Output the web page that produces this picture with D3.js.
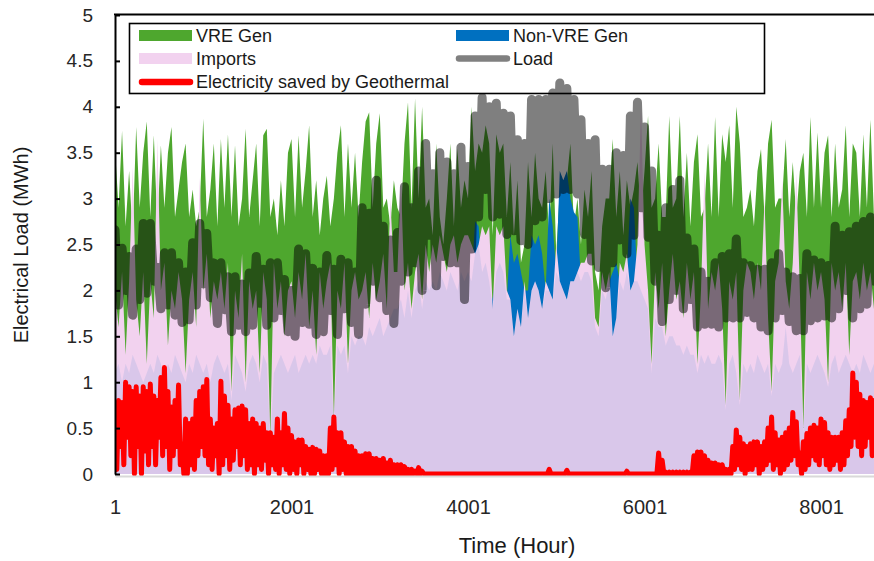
<!DOCTYPE html>
<html><head><meta charset="utf-8">
<script src="https://cdn.jsdelivr.net/npm/d3@7"></script>
<style>
html,body{margin:0;padding:0;background:#fff;overflow:hidden}
svg{display:block;font-family:"Liberation Sans",Arial,sans-serif}
</style></head><body>
<svg id="chart" width="874" height="561"></svg>
<script>
// Hours per sample for generation / imports / geothermal
const STEP = 40;
// Hours per block for Load (block maximum and minimum)
const BLOCK = 80;

const vreGen = [
3.55,2.9,3.74,2.7,3.3,2.6,3.78,2.9,3.5,3.84,
2.8,3.69,2.7,3.58,2.9,3.5,3.78,2.8,3.1,3.4,
3.6,2.8,3.1,2.7,2.9,3.87,2.8,3.1,3.6,2.7,
3.65,2.9,3.7,2.8,3.58,2.7,3.0,3.76,2.8,3.2,
3.6,2.7,3.69,3.76,2.8,3.0,2.6,3.2,2.7,3.5,
3.65,2.8,3.69,2.9,3.3,3.8,2.8,3.2,2.6,3.0,
3.25,2.7,3.0,3.5,3.8,2.8,3.6,2.9,3.5,2.8,
3.4,3.84,3.94,2.9,3.6,3.93,2.9,3.0,2.7,3.2,
2.9,2.8,3.6,4.05,2.9,4.09,3.0,4.0,2.9,3.0,
2.6,3.6,2.8,2.5,3.0,3.6,2.7,3.55,2.9,3.2,
3.0,4.0,3.3,3.6,3.5,3.8,3.6,2.6,3.7,3.5,
3.6,2.8,3.4,2.6,3.2,2.3,2.5,3.4,2.8,3.5,
3.0,2.9,3.3,2.6,3.6,2.4,3.1,2.9,3.2,3.6,
2.7,3.0,2.5,3.1,2.8,3.3,2.2,2.0,2.7,3.0,
3.0,3.65,2.8,3.3,2.6,3.2,2.9,3.1,3.4,2.8,
3.3,3.9,2.9,3.0,3.6,2.8,2.8,3.9,2.9,3.0,
3.9,2.8,3.5,2.7,3.4,3.7,2.8,2.9,3.6,2.8,
3.89,2.8,3.7,3.4,3.8,2.9,4.0,3.6,2.8,2.9,
3.1,2.7,3.3,3.54,2.8,3.6,3.86,2.9,3.0,3.0,
3.65,2.8,3.4,2.8,3.3,3.5,2.8,3.89,2.9,3.72,
2.9,3.5,3.69,2.8,3.6,2.9,3.1,3.8,2.8,3.6,
3.5,2.8,3.7,2.9,3.86,2.8,3.3,3.6,2.9];

const imports = [
2.0,1.6,2.2,1.3,2.1,3.35,1.9,1.5,2.2,1.2,
2.1,1.7,3.65,2.0,2.3,1.4,2.0,1.8,2.2,1.9,
1.1,1.9,2.2,1.6,3.23,2.0,2.4,1.7,2.1,1.9,
2.2,1.8,2.3,0.9,2.0,1.7,2.4,1.0,2.1,1.8,
2.0,1.1,2.2,1.9,0.4,2.3,1.8,2.1,1.5,2.0,
2.1,1.7,2.2,1.9,2.4,1.6,2.0,1.3,2.2,1.8,
2.1,2.3,0.6,2.0,1.8,2.3,1.2,2.0,2.2,1.9,
2.0,2.2,1.7,2.3,1.9,2.1,2.4,1.8,3.0,2.2,
2.2,3.2,2.0,2.3,1.8,2.2,2.4,1.9,2.5,2.2,
2.5,2.3,2.6,2.4,2.2,2.5,2.6,2.3,2.5,2.6,
2.6,2.5,2.4,2.5,2.7,2.6,2.7,1.8,2.7,2.6,
2.7,2.0,1.9,1.5,1.8,1.6,2.1,1.7,2.0,2.1,
2.0,1.8,2.1,2.0,1.9,2.5,2.1,2.0,1.9,2.1,
2.1,2.2,2.3,2.3,2.4,2.4,1.7,1.6,2.2,2.0,
2.2,1.5,1.7,2.3,2.2,2.4,2.0,2.1,2.5,4.0,
2.5,2.0,1.2,2.2,1.8,2.3,1.5,2.0,2.4,1.9,
2.1,1.7,2.3,1.9,2.2,1.2,2.0,3.3,1.8,2.2,
2.0,2.3,1.8,0.75,2.1,1.9,2.2,0.8,2.0,2.3,
2.2,1.9,2.3,2.0,3.0,1.7,0.9,2.1,2.3,3.2,
2.1,1.8,2.3,3.28,2.0,0.5,2.2,1.9,2.3,2.0,
2.2,1.9,1.0,2.3,2.0,2.2,1.8,2.3,1.3,2.1,
2.2,1.9,2.3,2.0,2.2,1.8,2.1,2.0,2.2];

const nonVreGen = [
1.1,1.2,1.0,1.2,1.1,1.3,1.2,1.1,1.0,1.1,
1.2,1.1,1.3,1.2,1.0,1.2,1.1,1.3,1.2,1.1,
1.0,1.2,1.1,1.3,1.2,1.1,1.2,1.0,1.2,1.3,
1.2,1.1,1.2,0.8,1.3,1.2,1.1,0.9,1.2,1.3,
1.2,1.0,1.3,1.2,0.35,1.1,1.2,1.3,1.2,1.1,
1.2,1.3,1.1,1.2,1.3,1.2,1.3,1.2,1.4,1.3,
1.3,1.4,0.5,1.4,1.3,1.4,1.1,1.5,1.4,1.5,
1.5,1.4,1.6,1.5,1.6,1.7,1.5,1.6,1.7,1.8,
1.8,1.9,1.7,2.0,1.7,2.0,2.1,1.8,2.1,2.0,
2.1,2.0,2.2,2.1,2.0,2.2,2.1,2.0,2.2,2.1,
2.2,2.1,2.75,2.7,2.2,2.3,2.1,1.9,2.2,2.3,
2.2,1.9,2.6,2.3,2.4,2.2,2.0,2.0,2.6,2.5,
2.6,2.4,2.0,3.0,2.7,2.2,3.3,3.2,3.3,3.0,
2.85,2.8,2.1,2.2,2.2,2.1,1.6,1.5,2.0,1.9,
2.1,2.2,2.3,2.1,2.0,2.2,3.0,2.9,2.1,2.0,
1.9,1.8,1.1,1.7,1.6,1.6,1.4,1.5,1.5,1.4,
1.4,1.3,1.4,1.3,1.3,1.1,1.3,1.2,1.3,1.2,
1.2,1.3,1.2,0.7,1.2,1.3,1.1,0.75,1.2,1.1,
1.2,1.1,1.3,1.2,1.1,1.2,0.85,1.2,1.1,1.2,
1.6,1.2,1.1,1.2,1.3,0.45,1.2,1.1,1.2,1.3,
1.2,1.1,0.95,1.2,1.3,1.1,1.2,1.3,1.2,1.1,
1.2,1.1,1.3,1.2,1.1,1.2,1.3,1.1,1.2];

const loadHigh = [
2.66,2.46,2.37,2.45,2.73,2.73,2.25,2.41,2.41,2.3,
2.2,2.52,2.73,2.62,2.3,2.3,2.15,2.15,2.07,2.19,
2.37,2.23,2.3,2.3,2.12,2.0,2.45,2.4,2.24,2.2,
2.38,2.23,2.34,2.3,2.2,2.9,2.84,3.2,2.7,2.55,
2.63,3.13,2.9,3.3,3.6,3.27,3.5,3.4,3.27,3.56,
3.35,3.9,4.1,4.0,4.04,3.93,3.9,3.64,3.6,4.08,
4.08,4.08,4.15,4.26,4.2,4.08,3.86,3.6,3.64,3.32,
3.32,3.5,3.47,3.9,4.05,3.78,3.3,2.6,2.9,3.1,
3.2,2.57,2.45,2.2,2.1,2.3,2.37,2.4,2.56,2.3,
2.27,2.23,2.23,2.3,2.4,2.2,2.15,2.13,2.4,2.33,
2.3,2.27,2.7,2.6,2.64,2.7,2.75,2.8,2.7,2.6];

const loadLow = [
1.84,2.0,1.73,1.9,1.97,2.1,1.8,1.84,1.73,1.65,
1.68,1.84,2.07,1.92,1.64,1.79,1.55,1.62,1.55,1.62,
1.86,1.62,1.7,1.78,1.55,1.5,1.65,1.63,1.52,1.55,
1.78,1.52,1.8,1.65,1.52,1.85,2.1,1.92,1.78,1.64,
2.1,2.2,2.3,2.0,2.6,2.05,2.37,2.3,2.3,1.9,
2.45,2.8,3.1,2.8,2.83,2.61,2.65,2.54,2.5,2.76,
2.8,3.0,3.05,3.1,3.1,3.05,2.61,2.32,2.25,2.03,
2.3,2.55,2.4,2.6,2.9,2.58,2.1,1.66,1.9,2.0,
1.8,1.9,1.6,1.63,1.63,1.6,1.7,1.7,1.7,1.76,
1.7,1.6,1.56,1.7,1.78,1.66,1.56,1.56,1.67,1.7,
1.72,1.7,1.8,2.0,1.7,1.8,1.85,2.1,2.0,1.9];

const geoHigh = [
0.75,0.8,0.78,1.0,0.95,0.9,0.95,0.85,0.95,0.9,
0.98,0.85,0.8,1.05,1.16,0.9,0.73,0.8,0.97,0.33,
0.6,0.55,0.6,0.8,0.9,0.95,1.03,0.6,0.5,0.55,
1.01,0.85,0.75,0.6,0.7,0.72,0.74,0.7,0.55,0.6,
0.55,0.5,0.55,0.45,0.45,0.4,0.6,0.45,0.66,0.5,
0.42,0.35,0.37,0.37,0.3,0.27,0.29,0.27,0.25,0.2,
0.2,0.5,0.62,0.45,0.45,0.35,0.3,0.3,0.25,0.2,
0.2,0.22,0.22,0.17,0.17,0.15,0.17,0.12,0.15,0.1,
0.1,0.1,0.08,0.05,0.05,0.03,0.07,0.03,0,0,
0,0,0,0,0,0,0,0,0,0,
0,0,0,0,0,0,0,0,0,0,
0,0,0,0,0,0,0,0,0,0,
0,0,0,0.05,0,0,0,0,0.04,0,
0,0,0,0,0,0,0,0,0,0,
0,0,0,0,0,0.03,0,0,0,0,
0,0,0,0,0.23,0.15,0.02,0.02,0.02,0.02,
0.02,0.02,0.02,0.02,0.2,0.24,0.24,0.2,0.15,0.12,
0.12,0.1,0.1,0.05,0.05,0.3,0.48,0.4,0.33,0.3,
0.33,0.35,0.35,0.3,0.35,0.5,0.62,0.45,0.37,0.4,
0.45,0.5,0.67,0.57,0.23,0.35,0.44,0.5,0.53,0.5,
0.6,0.56,0.45,0.4,0.4,0.4,0.45,0.58,0.7,1.1,
1.0,0.87,0.8,0.78,0.83,0.8,0.75,0.7,0.7];

const geoLow = [
0.05,0.3,0.1,0.4,0.2,0.0,0.3,0.0,0.25,0.1,
0.3,0.1,0.4,0.2,0.3,0.05,0.2,0.3,0.1,0.0,
0.0,0.1,0.05,0.2,0.3,0.2,0.1,0.05,0.2,0.0,
0.1,0.2,0.05,0.15,0.3,0.1,0.2,0.05,0.1,0.0,
0.1,0.05,0.15,0.0,0.1,0.05,0.0,0.1,0.05,0.0,
0.05,0.0,0.1,0.0,0.05,0.0,0.0,0.05,0.0,0.0,
0.0,0.05,0.1,0.0,0.05,0,0,0,0,0,
0,0,0,0,0,0,0,0,0,0,
0,0,0,0,0,0,0,0,0,0,
0,0,0,0,0,0,0,0,0,0,
0,0,0,0,0,0,0,0,0,0,
0,0,0,0,0,0,0,0,0,0,
0,0,0,0,0,0,0,0,0,0,
0,0,0,0,0,0,0,0,0,0,
0,0,0,0,0,0,0,0,0,0,
0,0,0,0,0,0,0,0,0,0,
0,0,0,0,0,0,0,0,0,0,
0,0,0,0,0,0.05,0.1,0.05,0,0.05,
0.05,0.1,0,0.05,0.1,0.15,0.05,0.1,0,0.05,
0.1,0.15,0.2,0.1,0,0.05,0.1,0.2,0.15,0.1,
0.2,0.1,0.05,0.1,0.15,0.05,0.1,0.2,0.3,0.4,
0.3,0.2,0.3,0.4,0.2,0.3,0.2,0.3,0.2];

const yTicks = [0,0.5,1,1.5,2,2.5,3,3.5,4,4.5,5];
const xTicks = [1,2001,4001,6001,8001];
const legendItems = [
  {name:"VRE Gen", kind:"rect", color:"#4ea72e", col:0, row:0},
  {name:"Non-VRE Gen", kind:"rect", color:"#0070c0", col:1, row:0},
  {name:"Imports", kind:"rect", color:"#f2d2ef", col:0, row:1},
  {name:"Load", kind:"line", color:"#808080", col:1, row:1},
  {name:"Electricity saved by Geothermal", kind:"line", color:"#ff0000", col:0, row:2}
];

const svg = d3.select("#chart");
const x = d3.scaleLinear().domain([1, 8760]).range([115, 888]);
const y = d3.scaleLinear().domain([0, 5]).range([474, 15]);

// ---- legend (drawn beneath the series, as in the reference)
const lg = svg.append("g");
lg.append("rect").attr("x",129.5).attr("y",23.5).attr("width",635).attr("height",70)
  .attr("fill","#fff").attr("stroke","#000").attr("stroke-width",1.6);
const colX = [139, 456], rowY = [35.5, 58.5, 82];
legendItems.forEach(d => {
  const sx = colX[d.col], cy = rowY[d.row];
  if (d.kind === "rect") {
    lg.append("rect").attr("x", sx).attr("y", cy-5.5).attr("width", 53).attr("height", 11).attr("fill", d.color);
  } else {
    lg.append("line").attr("x1", sx+3).attr("x2", sx+51).attr("y1", cy).attr("y2", cy)
      .attr("stroke", d.color).attr("stroke-width", 6.5).attr("stroke-linecap","round");
  }
  lg.append("text").attr("x", sx+57).attr("y", cy).attr("dy","0.35em")
    .attr("font-size", 18).attr("fill","#1a1a1a").text(d.name);
});

// ---- series
svg.append("defs").append("clipPath").attr("id","plotclip")
  .append("rect").attr("x",115).attr("y",0).attr("width",800).attr("height",480);
const g = svg.append("g").attr("clip-path","url(#plotclip)");

const hourOf = i => 1 + STEP * i;
const areaOf = arr => d3.area().x((d,i) => x(hourOf(i))).y0(y(0)).y1(d => y(d))(arr);

g.append("path").attr("d", areaOf(vreGen)).attr("fill","#4ea72e");
g.append("path").attr("d", areaOf(nonVreGen)).attr("fill","#0070c0");
g.append("path").attr("d", areaOf(imports)).attr("fill","#f2d2ef");
// blend of thin Non-VRE columns seen through the imports columns
g.append("path").attr("d", areaOf(nonVreGen.map((b,i) => Math.min(b, imports[i]))))
  .attr("fill","#0070c0").attr("fill-opacity",0.1);

const zig = (hi, lo, span) => hi.flatMap((h,j) => [
  {h: 1 + span*j, v: h}, {h: 1 + span*j + span/2, v: lo[j]}]);
const line = d3.line().x(d => x(d.h)).y(d => y(d.v));

g.append("path").attr("d", line(zig(loadHigh, loadLow, BLOCK)))
  .attr("fill","none").attr("stroke","#000").attr("stroke-opacity",0.5)
  .attr("stroke-width",9).attr("stroke-linejoin","round").attr("stroke-linecap","round");
g.append("path").attr("d", line(zig(geoHigh, geoLow, STEP)))
  .attr("fill","none").attr("stroke","#ff0000")
  .attr("stroke-width",5).attr("stroke-linejoin","round").attr("stroke-linecap","round");

// ---- axes and frame
const xa = svg.append("g").attr("transform","translate(0,474)")
  .call(d3.axisBottom(x).tickValues(xTicks).tickSize(0).tickPadding(26).tickFormat(d3.format("d")));
xa.select(".domain").attr("stroke","#d9d9d9").attr("stroke-width",2).attr("transform","translate(0,2)");
xa.selectAll("text").attr("font-size",20).attr("fill","#262626").attr("font-family","Liberation Sans, Arial, sans-serif");

const ya = svg.append("g").attr("transform","translate(115,0)")
  .call(d3.axisLeft(y).tickValues(yTicks).tickSizeInner(-5).tickSizeOuter(0).tickPadding(22).tickFormat(d3.format("~g")));
ya.select(".domain").attr("stroke","#000").attr("stroke-width",2);
ya.selectAll(".tick line").attr("stroke","#000").attr("stroke-width",2);
ya.selectAll("text").attr("font-size",19).attr("fill","#262626").attr("font-family","Liberation Sans, Arial, sans-serif");

svg.append("line").attr("x1",114).attr("x2",874).attr("y1",14.5).attr("y2",14.5)
  .attr("stroke","#000").attr("stroke-width",2);

svg.append("text").attr("x",517).attr("y",553).attr("text-anchor","middle")
  .attr("font-size",22).attr("fill","#1a1a1a").text("Time (Hour)");
svg.append("text").attr("transform","translate(28,245) rotate(-90)").attr("text-anchor","middle")
  .attr("font-size",20).attr("fill","#1a1a1a").text("Electrical Load (MWh)");
</script>
</body></html>
